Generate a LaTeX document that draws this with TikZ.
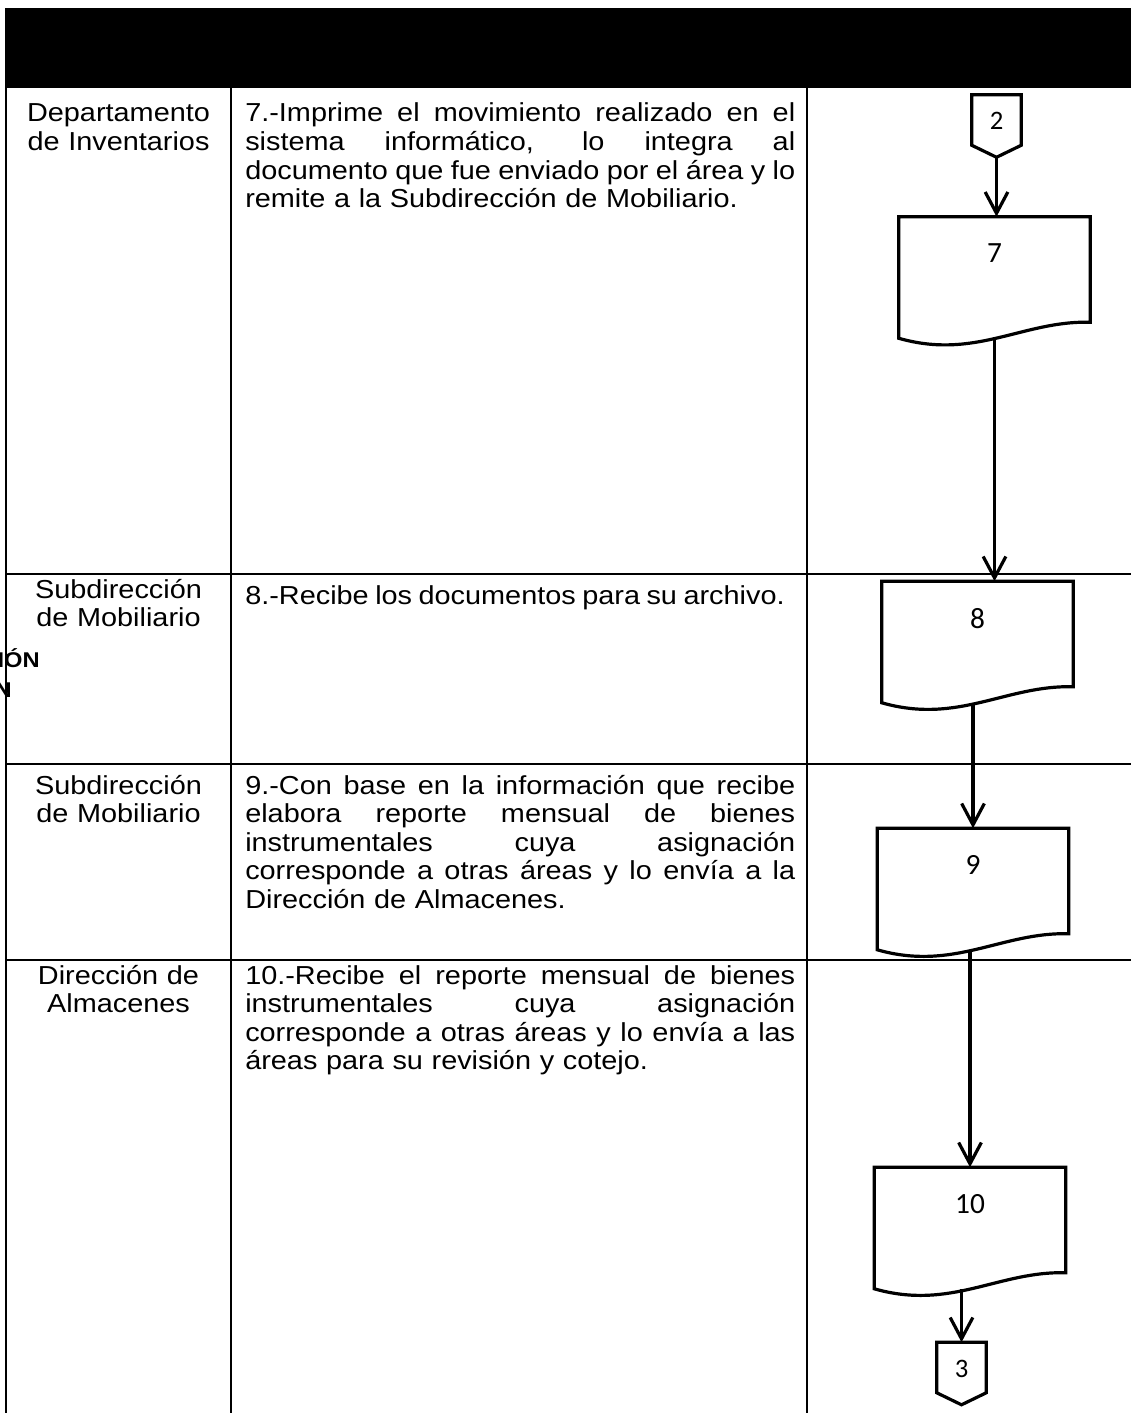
\documentclass[tikz,border=0pt]{standalone}
\usepackage{fontspec}
\setmainfont{Liberation Sans}[FakeStretch=1.11]
\newfontfamily\numfont{Carlito}
\usetikzlibrary{positioning,calc,arrows.meta}
\newlength\pxl \setlength\pxl{0.75pt}
\newlength\colw \setlength\colw{412.5pt}
\newcommand\jline[1]{\leavevmode\hbox to\colw{\spaceskip=0.28em plus 1fil\xspaceskip=\spaceskip\relax #1}\\}
% outline of a document symbol (wavy bottom) round a named node
\newcommand\docoutline[1]{%
  \draw[flow] (#1.south west) -- (#1.north west) -- (#1.north east) -- ($(#1.south east)+(0,-16)$)
    .. controls ($(#1.south west)!0.65!(#1.south east)+(0,-18)$) and ($(#1.south west)!0.4!(#1.south east)+(0,22)$) .. (#1.south west) -- cycle;}
% outline of an off-page connector round a named node
\newcommand\offoutline[1]{%
  \draw[flow] (#1.north west) -- (#1.north east) -- ($(#1.south east)+(0,-12)$) -- (#1.south) -- ($(#1.south west)+(0,-12)$) -- cycle;}
\tikzset{
  grid/.style={line width=1.3pt},
  flow/.style={line width=2.4pt, line join=miter},
  arrow/.style={line width=2.4pt, -{Straight Barb[length=16pt,width=17pt]}},
  area/.style={anchor=base, inner sep=0, text width=222\pxl, align=center, font=\fontsize{19.5}{21.4}\selectfont},
  steptext/.style={anchor=base west, inner sep=0, text width=\colw, align=left, font=\fontsize{19.5}{21.4}\selectfont},
  docbox/.style={minimum width=191\pxl, minimum height=121\pxl, inner sep=0},
  docnum/.style={inner sep=0, font=\numfont\fontsize{22}{24}\selectfont},
  offpage/.style={minimum width=49\pxl, minimum height=62\pxl, inner sep=0, text depth=10\pxl, font=\numfont\fontsize{20}{22}\selectfont},
  ghost/.style={anchor=east, inner sep=0, font=\bfseries\fontsize{16}{18}\selectfont}
}
\begin{document}
\begin{tikzpicture}[x=0.75pt, y=-0.75pt]
  \useasboundingbox (0,0) rectangle (1131,1413);
  % header band
  \fill (5,8) rectangle (1131,88);
  % table lines
  \foreach \xc in {6,231,807} {
      \draw[grid] (\xc,88) -- (\xc,1413);
  }
  \foreach \yr in {574,764,960} {
      \draw[grid] (6,\yr) -- (1131,\yr);
  }

  % areas
  \node[area] (a7) at (118.5,122) {Departamento\\de Inventarios};
  \node[area] (a8) at (118.5,598) {Subdirección\\de Mobiliario};
  \node[area] (a9) at (118.5,794) {Subdirección\\de Mobiliario};
  \node[area] (a10) at (118.5,984) {Dirección de\\Almacenes};

  % steps
  \node[steptext] (s7) at (245,122) {\jline{7.-Imprime el movimiento realizado en el}\jline{sistema informático, lo integra al}\jline{documento que fue enviado por el área y lo}remite a la Subdirección de Mobiliario.};
  \node[steptext] (s8) at (245,604) {\mbox{\spaceskip=0.25em\relax 8.-Recibe los documentos para su archivo.}};
  \node[steptext] (s9) at (245,794) {\jline{9.-Con base en la información que recibe}\jline{elabora reporte mensual de bienes}\jline{instrumentales cuya asignación}\jline{corresponde a otras áreas y lo envía a la}Dirección de Almacenes.};
  \node[steptext] (s10) at (245,984) {\jline{10.-Recibe el reporte mensual de bienes}\jline{instrumentales cuya asignación}\jline{corresponde a otras áreas y lo envía a las}áreas para su revisión y cotejo.};

  % bled text at the left edge
  \node[ghost] (g1) at (40,658) {CIÓN};
  \node[ghost] (g2) at (12,690) {N};

  % flow symbols
  \node[offpage] (c2) at (996.5,126) {2};
  \node[docbox] (d7) at (994.5,277.5) {};
  \node[docbox] (d8) at (977.5,642) {};
  \node[docbox] (d9) at (973,889) {};
  \node[docbox] (d10) at (970,1228) {};
  \node[offpage] (c3) at (961.5,1373.5) {3};
  \foreach \d/\n in {d7/7,d8/8,d9/9,d10/10} {
      \docoutline{\d}
      \node[docnum, below=27\pxl of \d.north] (n\n) {\n};
  }
  \offoutline{c2}
  \offoutline{c3}

  % connectors
  \draw[arrow] (c2.south) -- (c2.south |- d7.north);
  \draw[arrow] (d7.south) -- (d7.south |- d8.north);
  \draw[arrow] (d9.north |- d8.south) -- (d9.north);
  \draw[arrow] (d10.north |- d9.south) -- (d10.north);
  \draw[arrow] (c3.north |- d10.south) -- (c3.north);
\end{tikzpicture}
\end{document}
